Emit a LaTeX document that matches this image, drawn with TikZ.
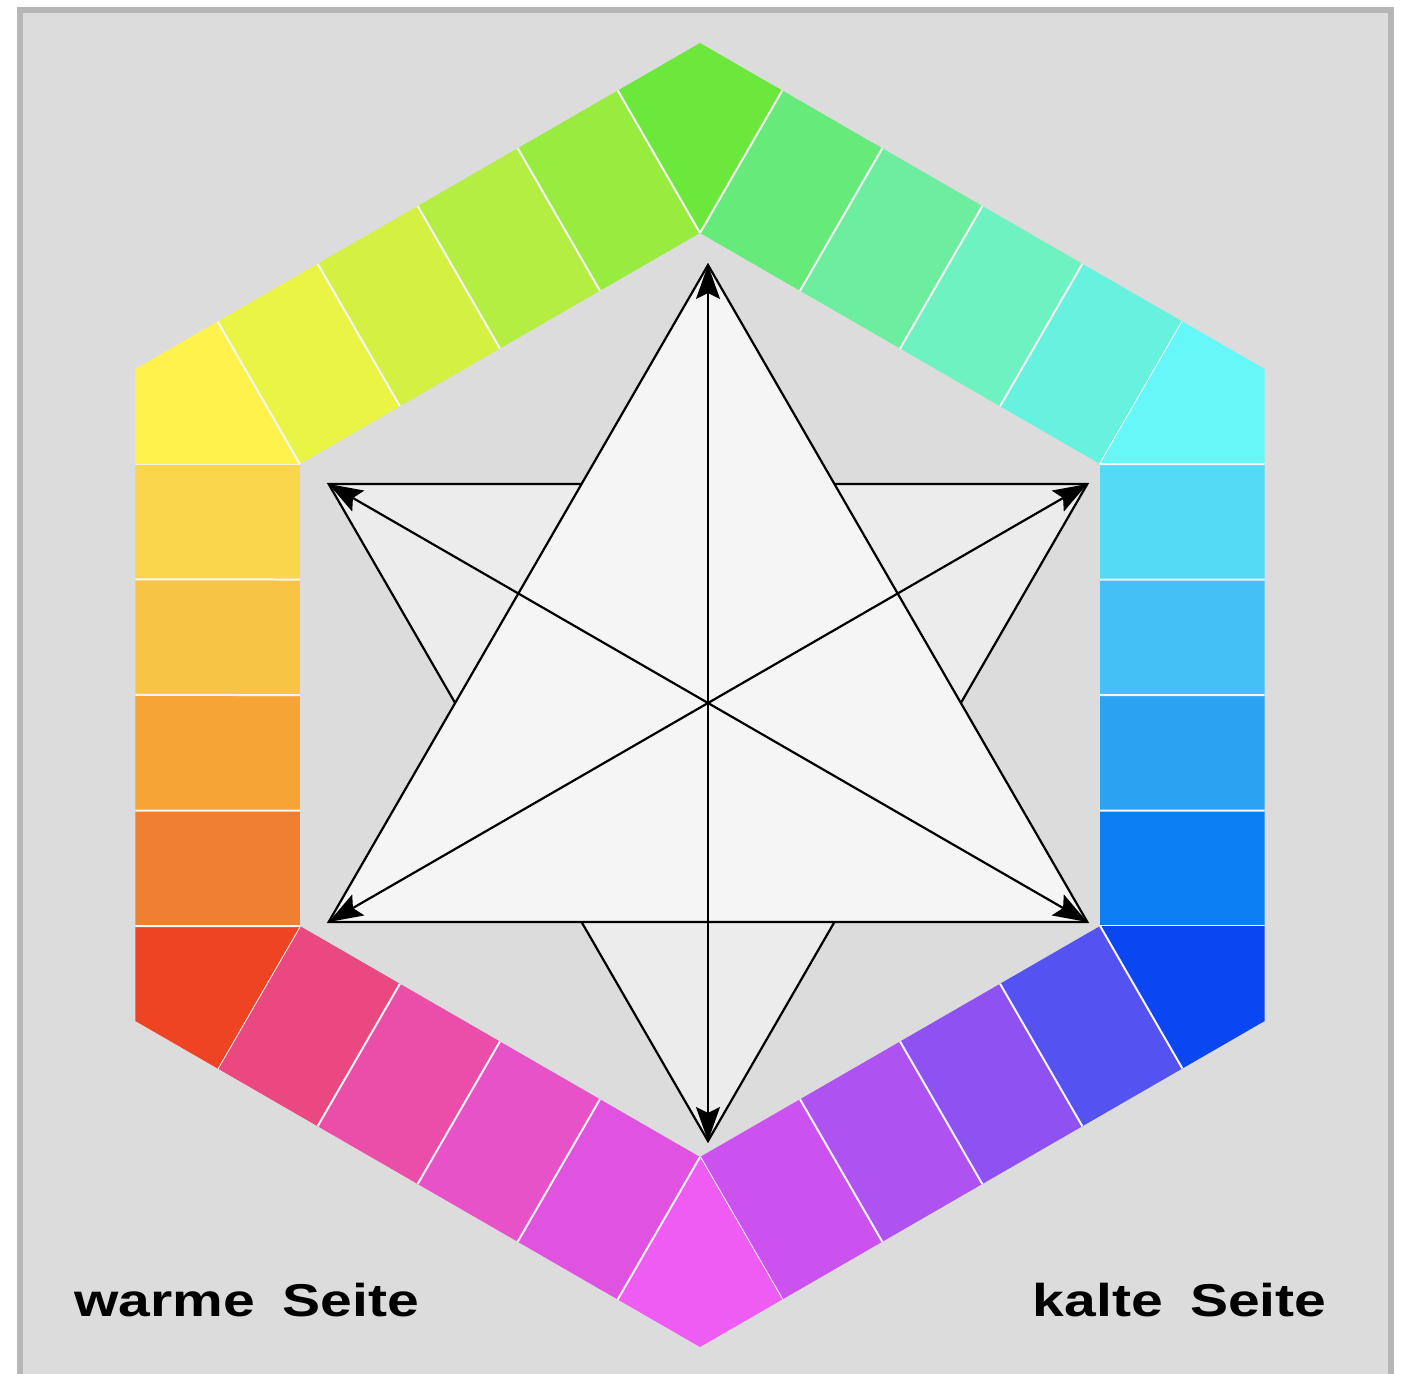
\documentclass[tikz,border=0pt]{standalone}
\usepackage{fontspec}
\usepackage{graphicx}
\newfontfamily\labfont{Liberation Sans}
\usetikzlibrary{calc,arrows.meta}
\definecolor{framegray}{HTML}{B6B6B6}
\definecolor{bggray}{HTML}{DCDCDC}
\definecolor{downfill}{HTML}{ECECEC}
\definecolor{upfill}{HTML}{F5F5F5}
\definecolor{sepcol}{HTML}{F6F6F6}
\tikzset{
  lab/.style={inner sep=0pt, font=\labfont\bfseries\fontsize{23pt}{27pt}\selectfont},
  starline/.style={draw=black, line width=1.1pt, line join=miter},
  arr/.style={line width=1.1pt, {Stealth[length=17pt,width=12pt,inset=3pt]}-{Stealth[length=17pt,width=12pt,inset=3pt]}},
  sepline/.style={draw=sepcol, line width=1pt}
}
\begin{document}
\begin{tikzpicture}[x=0.5pt,y=-0.5pt]
\useasboundingbox (0,0) rectangle (1402,1374);
\fill[white] (0,0) rectangle (1402,1374);
\fill[framegray] (17,7) rectangle (1394,1374);
\fill[bggray] (23,13) rectangle (1388,1374);
% hexagon vertices
\coordinate (C) at (700,695);
\foreach \i in {0,...,5}{
  \coordinate (O\i) at ($(C)+({-90+60*\i}:652)$);
  \coordinate (I\i) at ($(C)+({-90+60*\i}:462)$);
}
% colour ring
\foreach \i/\k/\ka/\kb/\kc/\kd in {
  0/6CE83C/66EA7A/6CEE9E/6EF2C2/66F2DE,
  1/66F8F8/55DAF6/44C0F6/2CA2F2/0A80F0,
  2/0A46F2/5452F0/8E52F2/AE52F2/CC52F0,
  3/EE5CF4/E052E0/E852C8/EA4EA8/EA4880,
  4/EE4424/F08030/F6A436/F8C444/FAD64C,
  5/FFF24C/EAF444/D4F042/B4EE42/98EC40}{
  \pgfmathtruncatemacro\n{mod(\i+1,6)}
  \pgfmathtruncatemacro\p{mod(\i+5,6)}
  \definecolor{kz}{HTML}{\k}
  \definecolor{k0}{HTML}{\ka}
  \definecolor{k1}{HTML}{\kb}
  \definecolor{k2}{HTML}{\kc}
  \definecolor{k3}{HTML}{\kd}
  \fill[kz] (O\i) -- ($(O\i)!0.145706!(O\n)$) -- (I\i) -- ($(O\i)!0.145706!(O\p)$) -- cycle;
  \foreach \j in {0,1,2,3}{
    \pgfmathsetmacro\ta{0.145706+\j*0.177147}
    \pgfmathsetmacro\tb{0.145706+(\j+1)*0.177147}
    \pgfmathsetmacro\ua{\j/4}
    \pgfmathsetmacro\ub{(\j+1)/4}
    \fill[k\j] ($(O\i)!\ta!(O\n)$) -- ($(O\i)!\tb!(O\n)$) -- ($(I\i)!\ub!(I\n)$) -- ($(I\i)!\ua!(I\n)$) -- cycle;
  }
  \foreach \j in {0,...,4}{
    \pgfmathsetmacro\ta{0.145706+\j*0.177147}
    \pgfmathsetmacro\ua{\j/4}
    \draw[sepline] ($(O\i)!\ta!(O\n)$) -- ($(I\i)!\ua!(I\n)$);
  }
}
% star
\coordinate (S) at (708,703);
\coordinate (A) at ($(S)+(-90:438)$);
\coordinate (BR) at ($(S)+(30:438)$);
\coordinate (BL) at ($(S)+(150:438)$);
\coordinate (D) at ($(S)+(90:438)$);
\coordinate (DL) at ($(S)+(210:438)$);
\coordinate (DR) at ($(S)+(-30:438)$);
\filldraw[starline, fill=downfill] (DL) -- (DR) -- (D) -- cycle;
\filldraw[starline, fill=upfill] (A) -- (BR) -- (BL) -- cycle;
\draw[arr] (D) -- (A);
\draw[arr] (DL) -- (BR);
\draw[arr] (DR) -- (BL);
% labels
\node[lab, anchor=base west] (warm) at (74,1316) {\scalebox{1.24}[1]{warme\hspace{0.48em}Seite}};
\node[lab, anchor=base east] (kalt) at (1327,1316) {\scalebox{1.24}[1]{kalte\hspace{0.48em}Seite}};
\end{tikzpicture}
\end{document}
